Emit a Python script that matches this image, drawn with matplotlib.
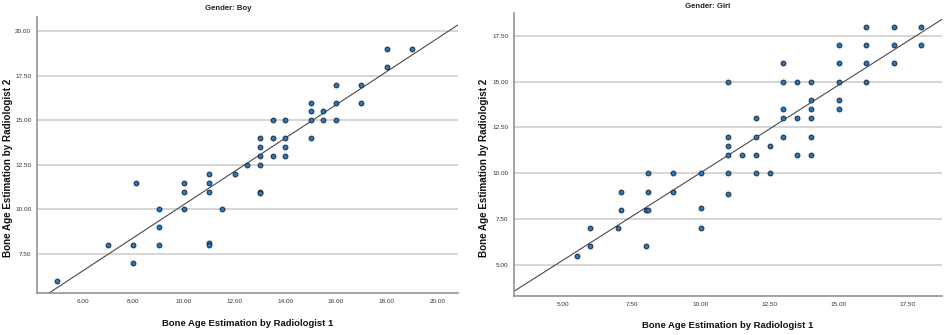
import matplotlib
matplotlib.use('Agg')
import matplotlib.pyplot as plt
from matplotlib import font_manager


def pick_font(names):
    for name in names:
        try:
            font_manager.findfont(name, fallback_to_default=False)
            return name
        except ValueError:
            pass
    return 'DejaVu Sans'


SANS = pick_font(['Liberation Sans Narrow', 'Liberation Sans'])

# Boy panel
BOY_R1 = [5, 7, 8, 8, 8.1, 9, 9, 9, 10, 10, 10, 11, 11, 11, 11, 11, 11.5, 12,
          12.5, 13, 13, 13, 13, 13, 13, 13.5, 13.5, 13.5, 14, 14, 14, 14,
          15, 15, 15, 15, 15.5, 15.5, 16, 16, 16, 17, 17, 18, 18, 19]
BOY_R2 = [6, 8, 8, 7, 11.5, 10, 9, 8, 11.5, 11, 10, 12, 11.5, 11, 8.1, 8, 10, 12,
          12.5, 14, 13.5, 13, 12.5, 11, 10.9, 15, 14, 13, 15, 14, 13.5, 13,
          16, 15.5, 15, 14, 15.5, 15, 17, 16, 15, 17, 16, 19, 18, 19]
BOY_FIT = (0.94, 0.933)   # intercept, slope
BOY_XTICKS = [6, 8, 10, 12, 14, 16, 18, 20]
BOY_YTICKS = [7.5, 10, 12.5, 15, 17.5, 20]

# Girl panel
GIRL_R1 = [5.5, 6, 6, 7, 7.1, 7.1, 8, 8.1, 8, 8.1, 8.1, 9, 9, 10, 10, 10,
           11, 11, 11, 11, 11, 11, 11.5, 12, 12, 12, 12, 12.5, 12.5,
           13, 13, 13, 13, 13, 13.5, 13.5, 13.5, 14, 14, 14, 14, 14, 14,
           15, 15, 15, 15, 15, 16, 16, 16, 16, 17, 17, 17, 18, 18]
GIRL_R2 = [5.5, 7, 6, 7, 9, 8, 8, 8, 6, 9, 10, 10, 9, 10, 8.1, 7,
           15, 12, 11.5, 11, 10, 8.85, 11, 13, 12, 11, 10, 11.5, 10,
           16, 15, 13.5, 13, 12, 15, 13, 11, 15, 14, 13.5, 13, 12, 11,
           17, 16, 15, 14, 13.5, 18, 17, 16, 15, 18, 17, 16, 18, 17]
GIRL_FIT = (0.47, 0.956)
GIRL_XTICKS = [5, 7.5, 10, 12.5, 15, 17.5]
GIRL_YTICKS = [5, 7.5, 10, 12.5, 15, 17.5]

XLABEL = 'Bone Age Estimation by Radiologist 1'
YLABEL = 'Bone Age Estimation by Radiologist 2'


def panel(ax, xs, ys, fit, xticks, yticks, xlim, ylim):
    ax.set_xlim(*xlim)
    ax.set_ylim(*ylim)
    ax.set_yticks(yticks)
    ax.set_xticks(xticks)
    ax.set_xticklabels([f'{t:.2f}' for t in xticks])
    ax.set_yticklabels([f'{t:.2f}' for t in yticks])
    ax.grid(axis='y', color='#d2d2d2', linewidth=1.3, zorder=0)
    ax.set_axisbelow(True)
    for side in ('top', 'right'):
        ax.spines[side].set_visible(False)
    for side in ('left', 'bottom'):
        ax.spines[side].set_color('#8a8a8a')
        ax.spines[side].set_linewidth(1.1)
    ax.tick_params(length=0, pad=4, labelsize=4.6, colors='#333333')
    for lab in ax.get_xticklabels() + ax.get_yticklabels():
        lab.set_family(SANS)
    ax.axline((0, fit[0]), slope=fit[1], color='#4a4a4a', linewidth=0.8, zorder=2)
    ax.scatter(xs, ys, s=12, color='#2b78b8', edgecolors='#1b2b48',
               linewidths=0.7, zorder=3)


fig = plt.figure(figsize=(9.45, 3.35), dpi=100)
ax1 = fig.add_axes([0.039, 0.125, 0.446, 0.824])
ax2 = fig.add_axes([0.544, 0.116, 0.453, 0.846])

panel(ax1, BOY_R1, BOY_R2, BOY_FIT, BOY_XTICKS, BOY_YTICKS, (4.2, 20.83), (5.3, 20.8))
panel(ax2, GIRL_R1, GIRL_R2, GIRL_FIT, GIRL_XTICKS, GIRL_YTICKS, (3.23, 18.76), (3.29, 18.76))

W, H = 945, 335
fig.text(228 / W, 1 - 9 / H, 'Gender: Boy', ha='center', va='center',
         family=SANS, weight='bold', fontsize=5.6, color='#222222')
fig.text(708 / W, 1 - 6 / H, 'Gender: Girl', ha='center', va='center',
         family=SANS, weight='bold', fontsize=5.6, color='#222222')
for cx, cy in ((248, 323), (728, 325)):
    fig.text(cx / W, 1 - cy / H, XLABEL, ha='center', va='center',
             family=SANS, weight='bold', fontsize=6.8, color='#111111')
for cx, cy in ((8, 168), (484, 168)):
    fig.text(cx / W, 1 - cy / H, YLABEL, ha='center', va='center', rotation=90,
             family=SANS, weight='bold', fontsize=7.1, color='#111111')

fig.savefig('out.png', dpi=100)
